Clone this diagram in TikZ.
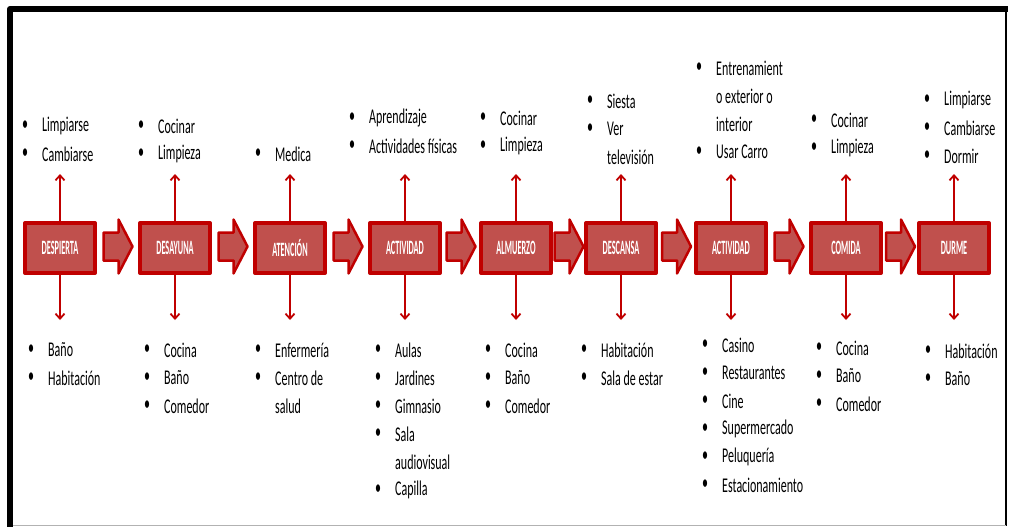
\documentclass[tikz,border=0pt]{standalone}
\usepackage{fontspec}
\setmainfont{Carlito}
\usepackage{graphicx}
\usetikzlibrary{arrows.meta,calc}
\definecolor{rojo}{RGB}{192,0,0}
\definecolor{rojoclaro}{RGB}{192,80,77}
\newcommand\alto[1]{\scalebox{1}[1.75]{#1}}
\newcommand\etiq[1]{\scalebox{0.75}[1.85]{\bfseries #1}}
\begin{document}
\begin{tikzpicture}[x=1pt, y=-1pt, line join=round,
	caja/.style={draw=rojo, fill=rojoclaro, line width=4pt, minimum width=70pt, minimum height=50pt, inner sep=0pt, text=white, font=\fontsize{11}{11}\selectfont},
	flecha/.style={draw=rojo, fill=rojoclaro, line width=2.5pt},
	linea/.style={rojo, line width=1.8pt, -{Straight Barb[length=5pt,width=9pt,line width=1.8pt]}},
	item/.style={anchor=west, inner sep=0pt, font=\fontsize{12}{12}\selectfont},
	>=stealth]
	\useasboundingbox (0,0) rectangle (1009,527);
	\fill[white] (0,0) rectangle (1009,527);
	\draw[line width=6pt] (10,527) -- (10,9) -- (1008,9);
	\draw[line width=1.5pt] (1006,9) -- (1006,526);
	\draw[black!30, line width=1.2pt] (13,525.5) -- (1006,525.5);
	\foreach \n/\x/\lab in {1/60/DESPIERTA, 2/175/DESAYUNA, 3/290/ATENCIÓN, 4/405/ACTIVIDAD, 5/516/ALMUERZO, 6/621/DESCANSA, 7/731/ACTIVIDAD, 8/846/COMIDA, 9/954/DURME}{
		\node[caja] (b\n) at (\x,248) {\etiq{\lab}};
		\draw[linea] (b\n.north) -- ++(0,-47) coordinate (u\n);
		\draw[linea] (b\n.south) -- ++(0,45) coordinate (d\n);}
	\foreach \a/\b in {1/2, 2/3, 3/4, 4/5, 5/6, 6/7, 7/8, 8/9}{
		\draw[flecha] ($(b\a.east)!0.5!(b\b.west)+(0,-1.5)$) coordinate (m\a)
			+(-14,-14) -- +(1,-14) -- +(1,-27) -- +(15,0) -- +(1,27) -- +(1,14) -- +(-14,14) -- cycle;}
	\foreach \x/\y/\t [count=\k] in {
		42/126/Limpiarse, 42/154/Cambiarse,
		158/126/Cocinar, 158/154/Limpieza,
		275/154/Medica,
		369/118/Aprendizaje, 369/146/Actividades físicas,
		500/118/Cocinar, 500/146/Limpieza,
		607/101/Siesta, 607/129/Ver,
		716/68/Entrenamient, 716/152/Usar Carro,
		831/120/Cocinar, 831/148/Limpieza,
		944/100/Limpiarse, 944/128/Cambiarse, 944/156/Dormir,
		48/350/Baño, 48/378/Habitación,
		164/350/Cocina, 164/378/Baño, 164/406/Comedor,
		275/350/Enfermería, 275/378/Centro de,
		395/350/Aulas, 395/378/Jardines, 395/406/Gimnasio, 395/434/Sala, 395/490/Capilla,
		505/350/Cocina, 505/378/Baño, 505/406/Comedor,
		601/350/Habitación, 601/378/Sala de estar,
		722/345/Casino, 722/373/Restaurantes, 722/401/Cine, 722/429/Supermercado, 722/457/Peluquería, 722/485/Estacionamiento,
		836/348/Cocina, 836/376/Baño, 836/404/Comedor,
		945/351/Habitación, 945/379/Baño}{
		\node[item] (i\k) at (\x,\y) {\alto{\t}};
		\node[item] (p\k) at (\x-20,\y) {\alto{\textbullet}};}
	\foreach \x/\y/\t [count=\k] in {
		607/157/televisión,
		716/96/o exterior o, 716/124/interior,
		275/406/salud, 395/462/audiovisual}{
		\node[item] (s\k) at (\x,\y) {\alto{\t}};}
\end{tikzpicture}
\end{document}
